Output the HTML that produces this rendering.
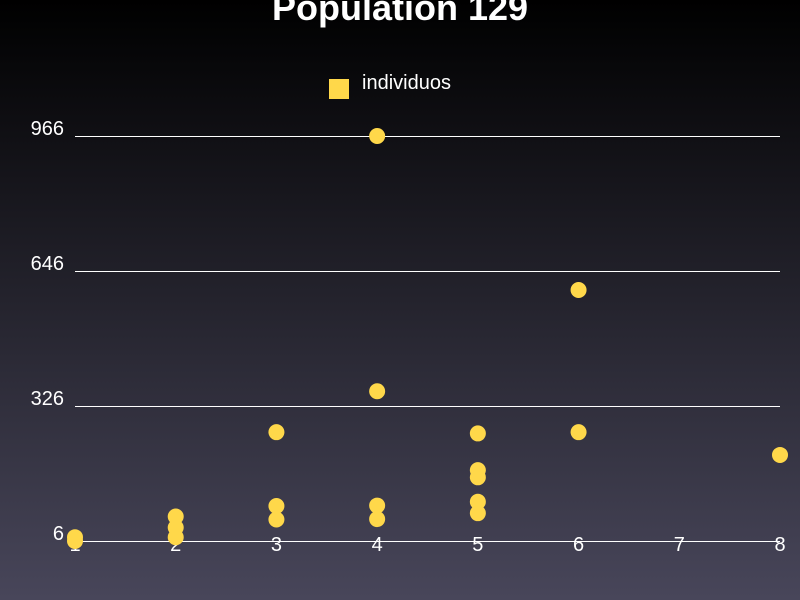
<!DOCTYPE html>
<html><head><meta charset="utf-8"><style>
html,body{margin:0;padding:0;width:800px;height:600px;overflow:hidden}
svg{display:block}
text{font-family:"Liberation Sans",sans-serif}
</style></head><body>
<svg id="chart" width="800" height="600" xmlns="http://www.w3.org/2000/svg">
<defs><linearGradient id="bg" x1="0" y1="0" x2="0" y2="1">
<stop offset="0" stop-color="#000000"/><stop offset="1" stop-color="#48465a"/></linearGradient></defs>
<rect width="800" height="600" fill="url(#bg)"/>
<text x="400" y="20" text-anchor="middle" font-size="36" font-weight="bold" fill="#fff">Population 129</text>
<rect x="329" y="79" width="20" height="20" fill="#ffd84a"/>
<text x="362" y="89" font-size="20" fill="#fff">individuos</text>
<g id="grid"></g><g id="xt"></g><g id="pts"></g>
</svg>
<script>
const yTicks=[6,326,646,966];
const xTicks=[1,2,3,4,5,6,7,8];
const xs=[1,1,2,2,2,3,3,3,4,4,4,4,5,5,5,5,5,6,6,8];
const ys=[15,6,64,38,15,264,89,57,966,361,90,58,261,174,157,99,72,601,264,210];
const NS="http://www.w3.org/2000/svg";
function X(v){return 75+(v-1)*(705/7);}
function Y(v){return 541-(v-6)*135/320;}
const grid=document.getElementById('grid'),xt=document.getElementById('xt'),pts=document.getElementById('pts');
yTicks.forEach(t=>{
  const l=document.createElementNS(NS,'line');
  
  
  const yy=Math.round(Y(t))+0.5;
  l.setAttribute('x1',75);l.setAttribute('x2',780);l.setAttribute('y1',yy);l.setAttribute('y2',yy);
  l.setAttribute('stroke','#fff');l.setAttribute('stroke-width','1');
  grid.appendChild(l);
  const tx=document.createElementNS(NS,'text');
  
  
  tx.setAttribute('x',64);tx.setAttribute('y',Y(t)-1);tx.setAttribute('text-anchor','end');
  tx.setAttribute('font-size','20');tx.setAttribute('fill','#fff');tx.textContent=t;
  grid.appendChild(tx);
});
xTicks.forEach(t=>{
  const tx=document.createElementNS(NS,'text');
  
  
  tx.setAttribute('x',X(t));tx.setAttribute('y',551);tx.setAttribute('text-anchor','middle');
  tx.setAttribute('font-size','20');tx.setAttribute('fill','#fff');tx.textContent=t;
  xt.appendChild(tx);
});
xs.forEach((x,i)=>{
  const c=document.createElementNS(NS,'circle');
  
  
  c.setAttribute('cx',X(x));c.setAttribute('cy',Y(ys[i]));c.setAttribute('r',8);
  c.setAttribute('fill','#ffd84a');
  pts.appendChild(c);
});
</script>
</body></html>
